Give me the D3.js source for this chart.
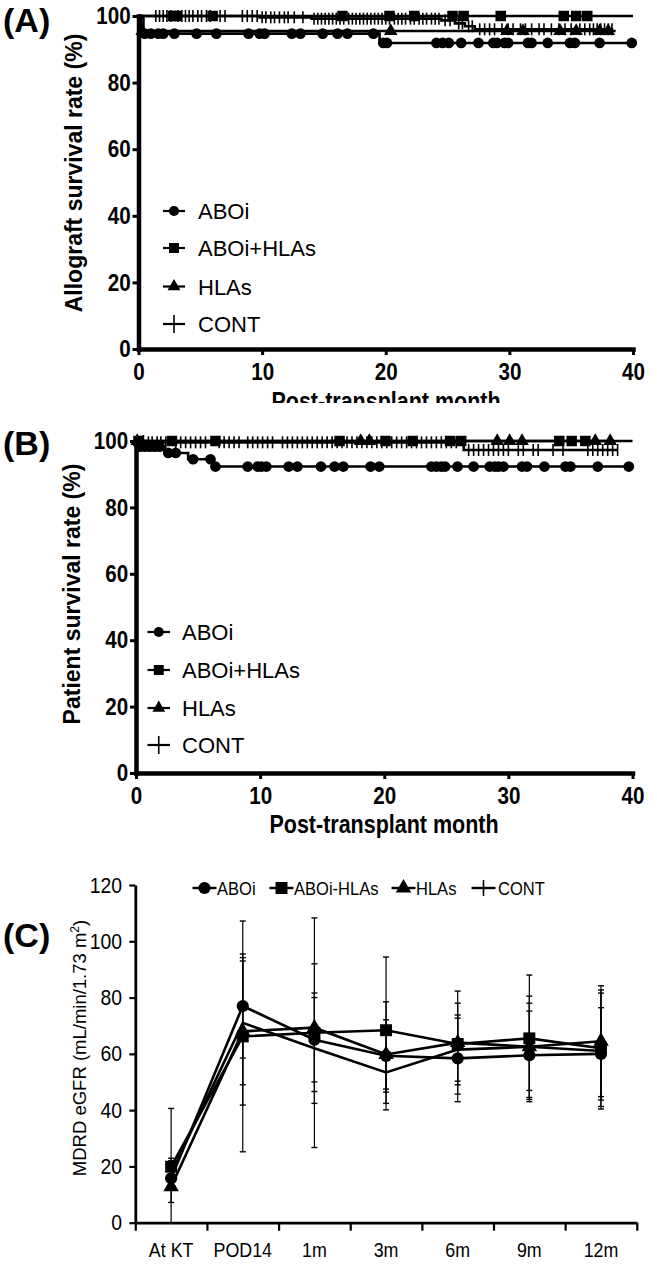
<!DOCTYPE html>
<html>
<head>
<meta charset="utf-8">
<script src="https://cdn.jsdelivr.net/npm/d3@7"></script>
<style>
  body { margin: 0; background: #fff; }
  svg text { font-family: "Liberation Sans", Arial, sans-serif; fill: #000; }
</style>
</head>
<body>
<div id="chart"></div>
<script>
// ---------- data ----------
var monthTicks = [0, 10, 20, 30, 40];
var survTicks = [0, 20, 40, 60, 80, 100];
var groupNames = ["ABOi", "ABOi+HLAs", "HLAs", "CONT"];

// (A) allograft survival: step times (month) / survival (%) / censored times
var aboiA_t = [0, 0.4, 19.5];
var aboiA_s = [100, 94.7, 91.9];
var aboiA_cens = [0.5, 1.0, 1.6, 2.0, 2.9, 4.7, 6.3, 8.9, 9.8, 10.2, 12.4, 13.1, 14.9, 16.1, 16.9, 19.0,
  19.8, 20.1, 24.1, 24.6, 25.1, 26.1, 27.5, 28.7, 29.0, 29.6, 29.9, 31.5, 31.8, 33.1, 34.9, 35.3, 37.3, 39.9];
var sqA_t = [0];
var sqA_s = [100];
var sqA_cens = [2.8, 3.1, 6.0, 16.5, 20.3, 22.3, 25.4, 26.3, 29.3, 34.4, 35.4, 36.3];
var hlaA_t = [0, 0.2];
var hlaA_s = [100, 95.5];
var hlaA_cens = [0.3, 20.4, 29.8, 31.1, 34.1, 35.4, 37.3, 38.0];
var contA_t = [0, 9.8, 14.0, 24.5, 25.6, 26.4, 27.2];
var contA_s = [100, 99.6, 99.2, 98.7, 97.8, 96.9, 96.0];
var contA_cens = [1.4, 1.7, 2.0, 2.3, 2.6, 3.2, 3.5, 3.8, 4.1, 4.4, 4.8, 5.1, 5.5, 5.8, 6.6, 7.0, 8.4, 8.8,
  9.2, 9.6, 10.0, 10.3, 10.7, 11.0, 11.4, 11.8, 12.1, 12.6, 13.3, 14.2, 14.5, 14.8, 15.1, 15.4, 15.7, 16.0,
  16.3, 16.6, 17.0, 17.3, 17.6, 17.9, 18.2, 18.5, 18.8, 19.1, 19.4, 19.7, 20.0, 20.3, 20.7, 21.0, 21.3,
  21.6, 22.0, 22.3, 22.7, 23.0, 23.3, 23.7, 24.0, 24.3, 24.8, 25.2, 25.9, 26.2, 26.7, 27.0, 27.6, 28.0,
  28.4, 28.8, 29.4, 29.9, 30.3, 30.9, 31.3, 31.8, 32.4, 32.8, 33.4, 34.0, 34.5, 35.0, 35.7, 36.1, 36.5,
  36.8, 37.1, 37.4, 37.7, 38.0, 38.3];

// (B) patient survival
var aboiB_t = [0, 0.2, 2.3, 4.2, 6.2];
var aboiB_s = [100, 98.3, 96.4, 94.5, 92.3];
var aboiB_cens = [0.3, 0.7, 1.1, 1.5, 1.9, 2.6, 3.2, 4.6, 6.0, 6.4, 9.0, 9.8, 10.1, 10.5, 12.3, 13.0, 14.9,
  16.0, 16.7, 18.9, 19.6, 23.8, 24.2, 24.6, 24.9, 25.9, 27.2, 28.5, 28.9, 29.2, 29.6, 31.1, 31.5, 32.9,
  34.6, 35.0, 37.2, 39.7];
var sqB_t = [0];
var sqB_s = [100];
var sqB_cens = [0.2, 2.9, 6.4, 16.4, 20.1, 22.3, 25.3, 26.2, 34.1, 35.1, 36.2];
var hlaB_t = [0];
var hlaB_s = [100];
var hlaB_cens = [0.1, 18.1, 18.8, 29.1, 30.1, 31.1, 37.0, 38.2];
var contB_t = [0, 1.0, 26.4];
var contB_s = [100, 99.6, 97.3];
var contB_cens = [0.6, 1.0, 1.3, 1.7, 2.0, 2.4, 3.2, 3.6, 4.0, 4.4, 4.8, 5.2, 5.6, 6.7, 7.1, 7.5, 7.9, 8.3,
  9.0, 9.4, 9.8, 10.2, 10.6, 11.0, 11.8, 12.2, 12.6, 13.0, 13.4, 13.8, 14.2, 14.6, 15.0, 15.4, 15.8, 16.2,
  16.6, 17.0, 17.4, 17.8, 18.2, 18.6, 19.0, 19.4, 19.8, 20.2, 20.6, 21.0, 21.4, 21.8, 22.2, 22.6, 23.0,
  23.4, 23.8, 24.2, 24.6, 25.0, 25.4, 25.8, 26.8, 27.2, 27.6, 28.0, 28.4, 28.8, 29.2, 29.6, 30.0, 30.8,
  31.2, 32.0, 32.4, 33.6, 34.4, 36.4, 36.8, 37.2, 37.6, 38.0, 38.4, 38.8];

// (C) eGFR mean and SD
var visits = ["At KT", "POD14", "1m", "3m", "6m", "9m", "12m"];
var eGFRTicks = [0, 20, 40, 60, 80, 100, 120];
var legendC = ["ABOi", "ABOi-HLAs", "HLAs", "CONT"];
var aboiC = [15.8, 77.0, 65.0, 59.3, 58.4, 59.5, 60.0];
var aboiC_sd = [24.8, 18.5, 15.0, 19.2, 15.4, 15.7, 16.4];
var sqC = [19.9, 66.2, 67.5, 68.4, 63.5, 65.5, 62.0];
var sqC_sd = [3.0, 41.0, 40.8, 26.0, 14.5, 22.5, 20.7];
var hlaC = [12.8, 68.0, 69.3, 59.8, 64.0, 62.5, 64.5];
var hlaC_sd = [5.6, 26.2, 22.7, 12.3, 18.3, 18.0, 19.7];
var contC = [17.5, 71.0, 62.0, 53.4, 61.5, 62.5, 61.0];
var contC_sd = [4.5, 22.0, 19.6, 7.0, 11.2, 15.5, 20.6];

// ---------- drawing ----------
var svg = d3.select("#chart").append("svg")
  .attr("width", 657).attr("height", 1264);
svg.append("rect").attr("width", 657).attr("height", 1264).attr("fill", "#fff");

var symbolTypes = [d3.symbolCircle, d3.symbolSquare, d3.symbolTriangle, null];
var symbolSizes = [90, 110, 80, 0];

function survAt(t, ts, ss) {
  var v = ss[0];
  for (var i = 0; i < ts.length; i++) if (ts[i] <= t) v = ss[i];
  return v;
}

function marker(g, k, cx, cy, scale) {
  scale = scale || 1;
  if (symbolTypes[k]) {
    g.append("path")
      .attr("d", d3.symbol().type(symbolTypes[k]).size(symbolSizes[k] * scale)())
      .attr("transform", "translate(" + cx + "," + cy + ")")
      .attr("fill", "#000");
  } else {
    g.append("line").attr("x1", cx).attr("x2", cx)
      .attr("y1", cy - 6).attr("y2", cy + 6)
      .attr("stroke", "#000").attr("stroke-width", 1.6);
  }
}

function condensed(sel, sx) {
  sel.attr("transform", "scale(" + sx + ",1)");
}

function drawKM(g, x, y, curves) {
  var line = d3.line().x(d => x(d[0])).y(d => y(d[1])).curve(d3.curveStepAfter);
  curves.forEach(function(c) {
    var pts = c.t.map((t, i) => [t, c.s[i]]);
    pts.push([c.end, c.s[c.s.length - 1]]);
    g.append("path").datum(pts).attr("d", line)
      .attr("fill", "none").attr("stroke", "#000").attr("stroke-width", 2.6);
  });
  // censor marks, CONT first
  [3, 2, 1, 0].forEach(function(k) {
    var c = curves[k];
    c.cens.forEach(function(t) {
      marker(g, k, x(t), y(survAt(t, c.t, c.s)));
    });
  });
}

function kmPanel(cfg) {
  var g = svg.append("g");
  var x = d3.scaleLinear().domain([0, 40]).range(cfg.xr);
  var y = d3.scaleLinear().domain([0, 100]).range(cfg.yr);

  drawKM(g, x, y, cfg.curves);

  var yAx = g.append("g").attr("transform", "translate(" + x(0) + ",0)")
    .call(d3.axisLeft(y).tickValues(survTicks).tickSize(6).tickSizeOuter(0).tickPadding(3));
  var xAx = g.append("g").attr("transform", "translate(0," + y(0) + ")")
    .call(d3.axisBottom(x).tickValues(monthTicks).tickSize(6).tickSizeOuter(0).tickPadding(8));
  [yAx, xAx].forEach(function(ax) {
    ax.select(".domain").attr("stroke-width", 4.5).attr("stroke-linecap", "square");
    ax.selectAll(".tick line").attr("stroke-width", 3);
    ax.selectAll(".tick text").attr("font-size", "24px").attr("font-weight", "bold")
      .attr("font-family", "Liberation Sans, Arial, sans-serif").call(condensed, 0.86);
  });

  // y title
  g.append("text")
    .attr("transform", "translate(" + cfg.yTitleX + "," + cfg.yTitleY + ") rotate(-90)")
    .attr("text-anchor", "middle").attr("font-size", "23px").attr("font-weight", "bold")
    .text(cfg.yTitle);

  // x title (panel A's is cut off by panel B in the original)
  if (cfg.clipY) {
    svg.append("clipPath").attr("id", "clip" + cfg.label.charAt(1)).append("rect")
      .attr("x", 0).attr("y", 0).attr("width", 657).attr("height", cfg.clipY);
    g.attr("clip-path", "url(#clip" + cfg.label.charAt(1) + ")");
  }
  g.append("g").attr("transform", "translate(" + cfg.xTitleX + "," + cfg.xTitleY + ")")
    .append("text").attr("text-anchor", "middle").attr("font-size", "25px").attr("font-weight", "bold")
    .call(condensed, 0.86).text("Post-transplant month");

  // legend
  groupNames.forEach(function(name, k) {
    var ly = cfg.legY[k];
    var lg = g.append("g");
    lg.append("line").attr("x1", cfg.legX[0]).attr("x2", cfg.legX[1])
      .attr("y1", ly).attr("y2", ly).attr("stroke", "#000").attr("stroke-width", 2.2);
    marker(lg, k, (cfg.legX[0] + cfg.legX[1]) / 2, ly, 0.9);
    if (k === 3) {
      lg.select("line:last-child").attr("y1", ly - 9).attr("y2", ly + 9);
    }
    lg.append("text").attr("x", cfg.legX[2]).attr("y", ly + 8)
      .attr("font-size", "22px").text(name);
  });

  // panel label
  svg.append("text").attr("x", 3).attr("y", cfg.labelY)
    .attr("font-size", "34px").attr("font-weight", "bold").text(cfg.label);
}

kmPanel({
  xr: [138.5, 633], yr: [349, 16],
  curves: [
    { t: aboiA_t, s: aboiA_s, cens: aboiA_cens, end: 40 },
    { t: sqA_t, s: sqA_s, cens: sqA_cens, end: 40 },
    { t: hlaA_t, s: hlaA_s, cens: hlaA_cens, end: 38.6 },
    { t: contA_t, s: contA_s, cens: contA_cens, end: 38.4 }
  ],
  yTitle: "Allograft survival rate (%)", yTitleX: 82, yTitleY: 173,
  xTitleX: 386, xTitleY: 410, clipY: 403,
  legX: [163, 185, 198], legY: [211, 248, 286.5, 324],
  label: "(A)", labelY: 32
});

kmPanel({
  xr: [136, 632.5], yr: [773, 441],
  curves: [
    { t: aboiB_t, s: aboiB_s, cens: aboiB_cens, end: 40 },
    { t: sqB_t, s: sqB_s, cens: sqB_cens, end: 40 },
    { t: hlaB_t, s: hlaB_s, cens: hlaB_cens, end: 38.5 },
    { t: contB_t, s: contB_s, cens: contB_cens, end: 38.8 }
  ],
  yTitle: "Patient survival rate (%)", yTitleX: 80, yTitleY: 594,
  xTitleX: 384, xTitleY: 833, clipY: null,
  legX: [147.5, 170, 182], legY: [632, 670, 708, 745],
  label: "(B)", labelY: 455
});

// ---------- panel C ----------
var gC = svg.append("g");
var xC = d3.scaleBand().domain(visits).range([135.3, 636.8]).paddingInner(0).paddingOuter(0);
var xBound = d3.scaleLinear().domain([0, visits.length]).range([135.3, 636.8]);
var yC = d3.scaleLinear().domain([0, 120]).range([1222.7, 885]);
var cx = v => xC(v) + xC.bandwidth() / 2;

var seriesC = [
  { m: aboiC, sd: aboiC_sd },
  { m: sqC, sd: sqC_sd },
  { m: hlaC, sd: hlaC_sd },
  { m: contC, sd: contC_sd }
];

// error bars
seriesC.forEach(function(s) {
  visits.forEach(function(v, i) {
    var hi = s.m[i] + s.sd[i], lo = Math.max(0, s.m[i] - s.sd[i]);
    var x0 = cx(v);
    gC.append("line").attr("x1", x0).attr("x2", x0).attr("y1", yC(lo)).attr("y2", yC(hi))
      .attr("stroke", "#000").attr("stroke-width", 1.2);
    gC.append("line").attr("x1", x0 - 3).attr("x2", x0 + 3).attr("y1", yC(hi)).attr("y2", yC(hi))
      .attr("stroke", "#000").attr("stroke-width", 1.4);
    if (lo > 0) {
      gC.append("line").attr("x1", x0 - 3).attr("x2", x0 + 3).attr("y1", yC(lo)).attr("y2", yC(lo))
        .attr("stroke", "#000").attr("stroke-width", 1.4);
    }
  });
});

var lineC = d3.line().x((d, i) => cx(visits[i])).y(d => yC(d));
seriesC.forEach(function(s) {
  gC.append("path").datum(s.m).attr("d", lineC)
    .attr("fill", "none").attr("stroke", "#000").attr("stroke-width", 2.6);
});
seriesC.forEach(function(s, k) {
  if (k === 3) return;
  s.m.forEach(function(m, i) {
    marker(gC, k, cx(visits[i]), yC(m), 1.3);
  });
});

var yAxC = gC.append("g").attr("transform", "translate(135.3,0)")
  .call(d3.axisLeft(yC).tickValues(eGFRTicks).tickSize(6).tickSizeOuter(0).tickPadding(9));
var xAxC = gC.append("g").attr("transform", "translate(0,1222.7)")
  .call(d3.axisBottom(xBound).tickValues(d3.range(visits.length + 1)).tickFormat("").tickSize(8).tickSizeOuter(0));
var xLabC = gC.append("g").attr("transform", "translate(0,1222.7)")
  .call(d3.axisBottom(xC).tickSize(0).tickPadding(19));
xLabC.select(".domain").remove();
[yAxC, xAxC].forEach(function(ax) {
  ax.select(".domain").attr("stroke-width", 2.8);
  ax.selectAll(".tick line").attr("stroke-width", 2.2);
});
yAxC.selectAll(".tick text").attr("font-size", "22px")
  .attr("font-family", "Liberation Sans, Arial, sans-serif").call(condensed, 0.88);
xLabC.selectAll(".tick text").attr("font-size", "21px")
  .attr("font-family", "Liberation Sans, Arial, sans-serif").call(condensed, 0.85);

// y title
var ytC = gC.append("text")
  .attr("transform", "translate(86,1048) rotate(-90)")
  .attr("text-anchor", "middle").attr("font-size", "18.5px");
ytC.append("tspan").text("MDRD eGFR (mL/min/1.73 m");
ytC.append("tspan").attr("font-size", "12px").attr("dy", -7).text("2");
ytC.append("tspan").attr("dy", 7).text(")");

// legend
var legCx = [204.5, 281.5, 403.5, 483.5];
var legTx = [217, 294, 416, 498];
legendC.forEach(function(name, k) {
  var ly = 888;
  gC.append("line").attr("x1", legCx[k] - 12).attr("x2", legCx[k] + 12)
    .attr("y1", ly).attr("y2", ly).attr("stroke", "#000").attr("stroke-width", 2.4);
  if (k === 3) {
    gC.append("line").attr("x1", legCx[k]).attr("x2", legCx[k])
      .attr("y1", ly - 8).attr("y2", ly + 8).attr("stroke", "#000").attr("stroke-width", 1.6);
  } else {
    marker(gC, k, legCx[k], ly, 1.3);
  }
  gC.append("text").attr("transform", "translate(" + legTx[k] + "," + (ly + 7) + ") scale(0.87,1)")
    .attr("font-size", "19px").text(name);
});

svg.append("text").attr("x", 3).attr("y", 947)
  .attr("font-size", "34px").attr("font-weight", "bold").text("(C)");
</script>
</body>
</html>
